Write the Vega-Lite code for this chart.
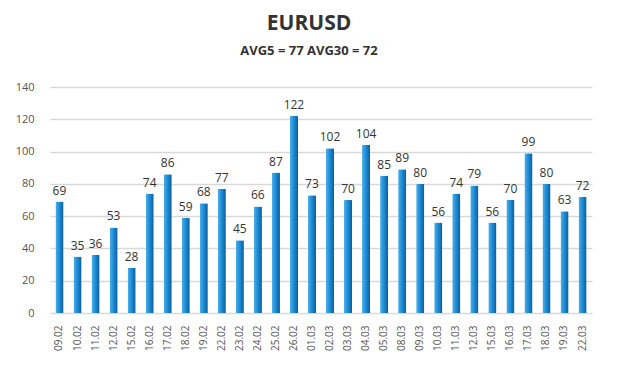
{
  "$schema": "https://vega.github.io/schema/vega-lite/v6.json",
  "width": 542,
  "height": 226,
  "autosize": {"type": "none"},
  "padding": {"left": 50, "top": 87, "right": 28, "bottom": 79},
  "background": "white",
  "title": {
    "text": "EURUSD",
    "subtitle": "AVG5 = 77 AVG30 = 72",
    "anchor": "middle",
    "dx": -12,
    "font": "Open Sans",
    "fontSize": 21,
    "fontWeight": "bold",
    "color": "#333333",
    "subtitleFont": "Open Sans",
    "subtitleFontSize": 13,
    "subtitleFontWeight": "bold",
    "subtitleColor": "#333333",
    "subtitlePadding": 11,
    "offset": 23
  },
  "data": {
    "values": [
      {"date": "09.02", "value": 69}, {"date": "10.02", "value": 35}, {"date": "11.02", "value": 36},
      {"date": "12.02", "value": 53}, {"date": "15.02", "value": 28}, {"date": "16.02", "value": 74},
      {"date": "17.02", "value": 86}, {"date": "18.02", "value": 59}, {"date": "19.02", "value": 68},
      {"date": "22.02", "value": 77}, {"date": "23.02", "value": 45}, {"date": "24.02", "value": 66},
      {"date": "25.02", "value": 87}, {"date": "26.02", "value": 122}, {"date": "01.03", "value": 73},
      {"date": "02.03", "value": 102}, {"date": "03.03", "value": 70}, {"date": "04.03", "value": 104},
      {"date": "05.03", "value": 85}, {"date": "08.03", "value": 89}, {"date": "09.03", "value": 80},
      {"date": "10.03", "value": 56}, {"date": "11.03", "value": 74}, {"date": "12.03", "value": 79},
      {"date": "15.03", "value": 56}, {"date": "16.03", "value": 70}, {"date": "17.03", "value": 99},
      {"date": "18.03", "value": 80}, {"date": "19.03", "value": 63}, {"date": "22.03", "value": 72}
    ]
  },
  "encoding": {
    "x": {
      "field": "date", "type": "ordinal", "sort": null,
      "scale": {"paddingInner": 0.55, "paddingOuter": 0.3},
      "axis": {
        "title": null, "labelAngle": -90, "labelFont": "Open Sans", "labelFontSize": 10,
        "labelColor": "#555555", "ticks": false, "domain": false, "labelPadding": 12,
        "labelBaseline": "middle", "labelAlign": "right"
      }
    },
    "y": {
      "field": "value", "type": "quantitative",
      "scale": {"domain": [0, 140]},
      "axis": {
        "title": null, "values": [0, 20, 40, 60, 80, 100, 120, 140],
        "labelFont": "Open Sans", "labelFontSize": 11, "labelColor": "#555555",
        "ticks": false, "domain": false, "labelPadding": 16,
        "gridColor": "#d9d9d9", "gridWidth": 1.5
      }
    }
  },
  "layer": [
    {
      "mark": {
        "type": "bar",
        "color": {
          "gradient": "linear", "x1": 0, "x2": 1, "y1": 0, "y2": 0,
          "stops": [
            {"offset": 0, "color": "#4fb0ec"},
            {"offset": 0.45, "color": "#1f8fd8"},
            {"offset": 1, "color": "#0b5d9c"}
          ]
        },
        "cornerRadiusTopLeft": 1,
        "cornerRadiusTopRight": 1
      }
    },
    {
      "mark": {"type": "text", "dy": -11, "font": "Open Sans", "fontSize": 12, "color": "#333333"},
      "encoding": {"text": {"field": "value", "type": "quantitative"}}
    }
  ],
  "config": {"view": {"stroke": null}}
}
